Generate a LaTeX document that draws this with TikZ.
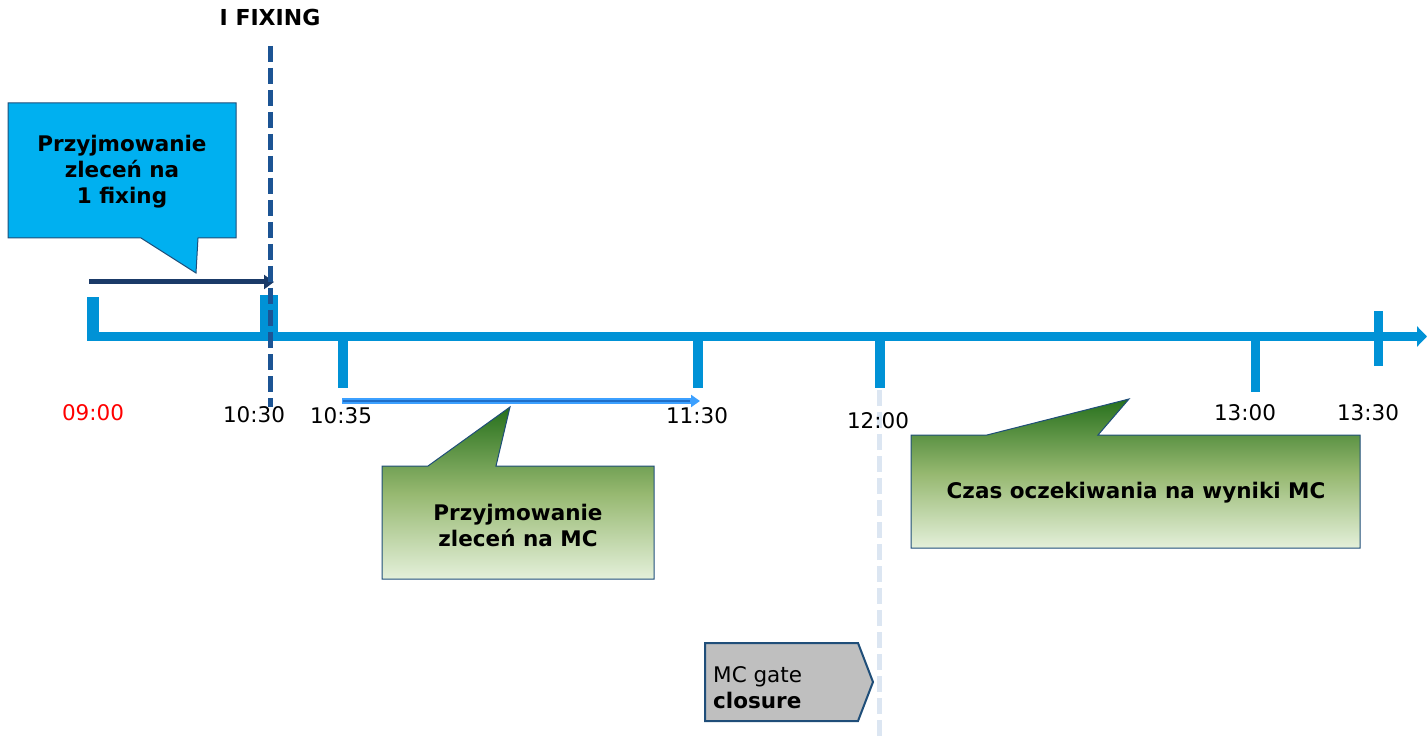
\documentclass[tikz,border=0pt]{standalone}
\usepackage{fontspec}
\setmainfont{DejaVu Sans}
\usetikzlibrary{arrows.meta}
\definecolor{axisblue}{RGB}{0,146,214}
\definecolor{fixnavy}{RGB}{28,84,148}
\definecolor{arrownavy}{RGB}{26,58,104}
\definecolor{cyanbox}{RGB}{0,176,240}
\definecolor{boxborder}{RGB}{31,78,121}
\definecolor{lightarrow}{RGB}{60,160,255}
\definecolor{lightinner}{RGB}{30,110,200}
\definecolor{gtop}{RGB}{38,112,28}
\definecolor{gmid}{RGB}{150,184,112}
\definecolor{gbot}{RGB}{228,240,218}
\definecolor{gatefill}{RGB}{191,191,191}
\definecolor{dashlight}{RGB}{220,230,242}
\definecolor{labelred}{RGB}{255,0,0}
\tikzset{
  lbl/.style={inner sep=0pt, font={\fontsize{21.5}{26}\selectfont}},
  boldlbl/.style={inner sep=0pt, align=center, font={\fontsize{21.5}{26}\selectfont\bfseries}},
  tickbar/.style={fill=axisblue},
  greencall/.style={draw=boxborder, line width=1pt, top color=gtop, bottom color=gbot, middle color=gmid},
}
\begin{document}
\begin{tikzpicture}[x=1pt,y=-1pt]
\useasboundingbox (0,0) rectangle (1428,738);
% light dashed line at 12:00
\draw[dashlight, line width=5pt, dash pattern=on 16pt off 6pt] (879,390) -- (879,738);
% axis
\coordinate (axS) at (87,336.5);
\coordinate (axE) at (1427,336.5);
\draw[axisblue, line width=9pt, -{Triangle[length=10pt,width=20pt]}] (axS) -- (axE);
% ticks
\fill[tickbar] (87,297) rectangle (99,341);
\fill[tickbar] (260,295) rectangle (278,341);
\fill[tickbar] (338,332) rectangle (348,388);
\fill[tickbar] (693,332) rectangle (703,388);
\fill[tickbar] (875,332) rectangle (885,388);
\fill[tickbar] (1251,332) rectangle (1260,392);
\fill[tickbar] (1374,311) rectangle (1383,366);
% blue callout
\draw[fill=cyanbox, draw=boxborder, line width=1pt] (8,103) -- (236,103) -- (236,238) -- (198,238) -- (196,273) -- (141,238) -- (8,238) -- cycle;
\node[boldlbl] (t1) at (122,172) {Przyjmowanie\\zleceń na\\1 fixing};
% dark arrow
\coordinate (d0) at (89,282);
\coordinate (d1) at (274,282);
\draw[arrownavy, line width=5pt, -{Triangle[length=10pt,width=14pt]}] (d0) -- (d1);
% fixing dashed line
\coordinate (f0) at (270.5,46);
\coordinate (f1) at (270.5,407);
\draw[fixnavy, line width=5pt, dash pattern=on 16pt off 6pt] (f0) -- (f1);
\node[inner sep=0pt, font={\fontsize{22}{26}\selectfont\bfseries}] (fix) at (270,17) {I FIXING};
% light arrow
\coordinate (l0) at (342,401);
\coordinate (l1) at (700,401);
\draw[lightarrow, line width=6pt, -{Triangle[length=9pt,width=12pt]}] (l0) -- (l1);
\draw[lightinner, line width=2.2pt] (343,401) -- (690,401);
% green callouts
\draw[greencall] (382,466) -- (428,466) -- (510,407) -- (496,466) -- (654,466) -- (654,579) -- (382,579) -- cycle;
\node[boldlbl] (t2) at (518,525) {Przyjmowanie\\zleceń na MC};
\draw[greencall] (911,435) -- (987,435) -- (1129,399) -- (1098,435) -- (1360,435) -- (1360,548) -- (911,548) -- cycle;
\node[boldlbl] (t3) at (1136,493) {Czas oczekiwania na wyniki MC};
% gate
\draw[fill=gatefill, draw=boxborder, line width=2pt] (705,643) -- (858,643) -- (873,682) -- (858,721) -- (705,721) -- cycle;
\node[lbl, anchor=west, align=left] (gate) at (713,688) {MC gate\\\textbf{closure}};
% time labels
\node[lbl, text=labelred] (h0900) at (93,413) {09:00};
\node[lbl] (h1030) at (254,415) {10:30};
\node[lbl] (h1035) at (341,416) {10:35};
\node[lbl] (h1130) at (697,416) {11:30};
\node[lbl] (h1200) at (878,421) {12:00};
\node[lbl] (h1300) at (1245,413) {13:00};
\node[lbl] (h1330) at (1368,413) {13:30};
\end{tikzpicture}
\end{document}
